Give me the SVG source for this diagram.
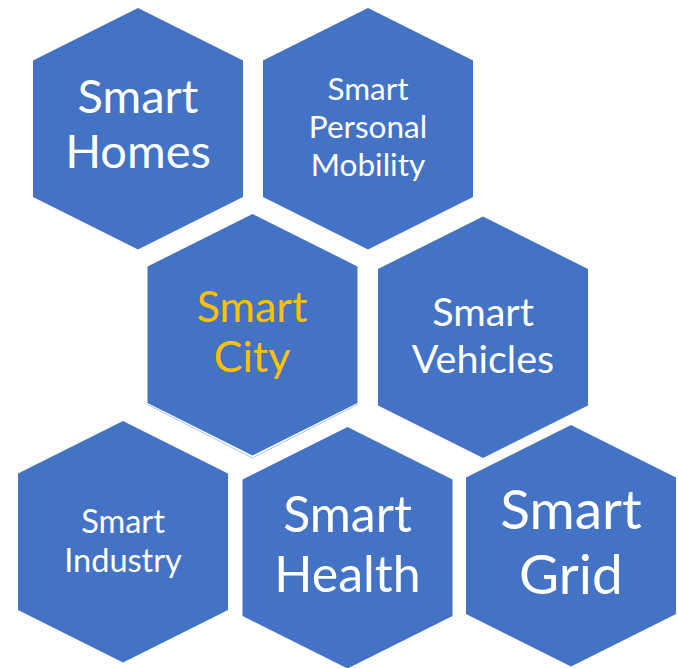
<svg xmlns="http://www.w3.org/2000/svg" xmlns:xlink="http://www.w3.org/1999/xlink" width="678" height="668" viewBox="0 0 678 668">
  <style>
    .hex { fill: #4472C4; }
    .lbl { font-family: Lato, "Open Sans", "Liberation Sans", sans-serif; fill: #FFFFFF; text-anchor: middle; }
    .gold { fill: #FFC000; }
  </style>
  <defs>
    <polygon id="hexShape" points="0,0 105,52.5 105,189 0,241.5 -105,189 -105,52.5"/>
  </defs>
  <rect width="678" height="668" fill="#FFFFFF"/>

  <g id="node-smart-homes">
    <use xlink:href="#hexShape" href="#hexShape" class="hex" x="138" y="8"/>
    <text class="lbl" font-size="47" x="138" y="113">Smart</text>
    <text class="lbl" font-size="47" x="138" y="168">Homes</text>
  </g>

  <g id="node-smart-personal-mobility">
    <use xlink:href="#hexShape" href="#hexShape" class="hex" x="368" y="8"/>
    <text class="lbl" font-size="31.5" x="368" y="100">Smart</text>
    <text class="lbl" font-size="31.5" x="368" y="138">Personal</text>
    <text class="lbl" font-size="31.5" x="368" y="176">Mobility</text>
  </g>

  <g id="node-smart-city">
    <polyline points="147.5,404.5 252.5,458 357.5,404.5" fill="none" stroke="#AFC3E8" stroke-width="1"/>
    <use xlink:href="#hexShape" href="#hexShape" class="hex" x="252.5" y="214"/>
    <text class="lbl gold" font-size="43" x="252" y="322">Smart</text>
    <text class="lbl gold" font-size="43" x="252" y="372">City</text>
  </g>

  <g id="node-smart-vehicles">
    <use xlink:href="#hexShape" href="#hexShape" class="hex" x="483" y="216.5"/>
    <text class="lbl" font-size="39.5" x="483" y="326">Smart</text>
    <text class="lbl" font-size="39.5" x="483" y="373">Vehicles</text>
  </g>

  <g id="node-smart-industry">
    <use xlink:href="#hexShape" href="#hexShape" class="hex" x="123" y="421"/>
    <text class="lbl" font-size="32.5" x="123" y="533">Smart</text>
    <text class="lbl" font-size="32.5" x="123" y="572">Industry</text>
  </g>

  <g id="node-smart-health">
    <use xlink:href="#hexShape" href="#hexShape" class="hex" x="347.5" y="427"/>
    <text class="lbl" font-size="50" x="347.5" y="532">Smart</text>
    <text class="lbl" font-size="50" x="347.5" y="592">Health</text>
  </g>

  <g id="node-smart-grid">
    <use xlink:href="#hexShape" href="#hexShape" class="hex" x="571" y="425"/>
    <text class="lbl" font-size="55" x="571" y="529">Smart</text>
    <text class="lbl" font-size="55" x="571" y="594">Grid</text>
  </g>
</svg>
